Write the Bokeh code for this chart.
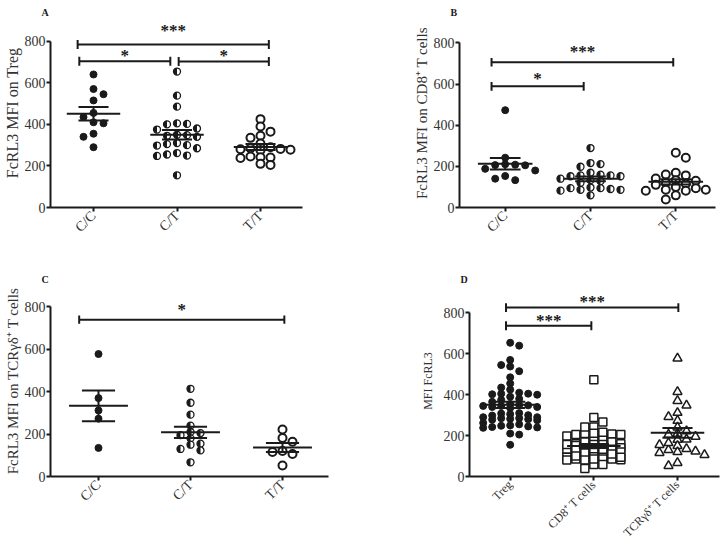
import math
import numpy as np
from bokeh.plotting import figure
from bokeh.layouts import column, row
from bokeh.models import Range1d, FixedTicker, ColumnDataSource, Title
from bokeh.core.properties import value
from bokeh.embed import file_html
from bokeh.resources import INLINE

# ---------------- data ----------------
genotypes = ["C/C", "C/T", "T/T"]
cell_types = ["Treg", "CD8\u207a T cells", "TCR\u03b3\u03b4\u207a T cells"]
y_ticks = [0, 200, 400, 600, 800]

treg_cc = [640, 570, 545, 515, 455, 435, 410, 405, 355, 340, 290]
treg_ct = [654, 538, 485, 405, 402, 400, 380, 375, 350, 348, 345, 340, 310, 305,
           300, 298, 285, 262, 255, 250, 248, 155]
treg_tt = [425, 390, 365, 345, 335, 308, 290, 285, 282, 280, 278, 275, 245, 242,
           240, 238, 210, 205]

cd8_cc = [473, 242, 210, 208, 206, 205, 188, 180, 153, 140, 133]
cd8_ct = [289, 216, 211, 198, 169, 160, 156, 156, 152, 152, 140, 133, 128, 120,
          97, 94, 94, 90, 86, 86, 82, 59]
cd8_tt = [266, 242, 169, 160, 156, 141, 133, 130, 120, 115, 110, 100, 94, 86,
          86, 81, 81, 59, 39]

gd_cc = [578, 370, 312, 273, 135]
gd_ct = [414, 348, 292, 240, 210, 205, 195, 180, 155, 150, 130, 123, 67]
gd_tt = [222, 182, 164, 120, 116, 106, 52]

treg_all = treg_cc + treg_ct + treg_tt
cd8_all = cd8_cc + cd8_ct + cd8_tt
gd_all = gd_cc + gd_ct + gd_tt

sig_labels_A = ["***", "*", "*"]
sig_labels_B = ["***", "*"]
sig_labels_C = ["*"]
sig_labels_D = ["***", "***"]

# ---------------- layout (page pixel geometry) ----------------
INK = "#1a1a1a"
SERIF = "Liberation Serif"

SPEC = {
    "A": dict(fig=(0, 0, 362, 255), frame_x=(50, 302), top=18, y0=207, y800=40.7, cats=(93, 260),
              bars=[(-0.19, 2.10, 784, 852), (-0.17, 0.92, 704, 729), (1.02, 2.10, 702, 729)],
              ylabel="FcRL3 MFI on Treg", ylabel_size="16px", tick_size="14px", lab_standoff=1),
    "B": dict(fig=(362, 0, 360, 255), frame_x=(459, 715), top=14, y0=210, y800=39.3,
              cats=(504.7, 675.3),
              bars=[(-0.16, 1.97, 706, 758), (-0.16, 0.92, 589, 626)],
              ylabel="FcRL3 MFI on CD8\u207a T cells", ylabel_size="15px", tick_size="14px",
              lab_standoff=1),
    "C": dict(fig=(0, 255, 362, 298), frame_x=(50, 328), top=14, y0=476, y800=292.3, cats=(98, 282),
              bars=[(-0.21, 2.02, 740, 789)],
              ylabel="FcRL3 MFI on TCR\u03b3\u03b4\u207a T cells", ylabel_size="15px",
              tick_size="14px", lab_standoff=1),
    "D": dict(fig=(362, 255, 360, 298), frame_x=(469, 719), top=30, y0=478, y800=312.7,
              cats=(509.7, 677),
              bars=[(-0.05, 2.01, 826, 854), (-0.05, 0.97, 737, 762)],
              ylabel="MFI FcRL3", ylabel_size="12px", tick_size="12px", lab_standoff=6),
}


def swarm(vals, ppx, ppy, step, dmin, kmax):
    v = np.asarray(vals, float)
    order = np.argsort(-v, kind="stable")
    placed = []
    offs = np.zeros(len(v))
    flip = 1
    for i in order:
        y = v[i] * ppy
        cands = [0]
        for k in range(1, kmax + 1):
            cands += [flip * k, -flip * k]
        best, best_d = None, -1.0
        for c in cands:
            x = c * step
            d = min([math.hypot(x - px, y - py) for px, py in placed] or [1e9])
            if d >= dmin:
                best = x
                break
            if d > best_d + 0.5:
                best, best_d = x, d
        if best != 0:
            flip = -flip
        placed.append((best, y))
        offs[i] = best / ppx
    return offs


def make_panel(key, groups, markers, xlabels, sig_labels, step=10, dmin=6.5, kmax=3):
    s = SPEC[key]
    fx, fy, w, h = s["fig"]
    fl, fr = s["frame_x"]
    left = int(round(fl - fx))
    right = int(round(fx + w - fr))
    bottom = int(round(fy + h - s["y0"]))
    top = s["top"]
    frame_l = fx + left
    frame_r = fx + w - right
    frame_b = fy + h - bottom
    frame_h = h - top - bottom
    c0, c2 = s["cats"]
    ppx = (c2 - c0) / 2.0
    ppy = (frame_b - s["y800"]) / 800.0
    p = figure(width=w, height=h, output_backend="svg", toolbar_location=None, title=None,
               x_range=Range1d(-(c0 - frame_l) / ppx, 2 + (frame_r - c2) / ppx),
               y_range=Range1d(0, frame_h / ppy),
               min_border_left=left, min_border_right=right,
               min_border_top=top, min_border_bottom=bottom)
    p.outline_line_color = None
    p.grid.visible = False
    p.background_fill_color = "white"
    p.border_fill_color = "white"

    p.add_layout(Title(text=key, align="left", offset=-9, standoff=1, text_font=SERIF,
                       text_font_size="10px", text_font_style="bold", text_color=INK), "above")

    for ax in (p.xaxis, p.yaxis):
        ax.axis_line_color = INK
        ax.axis_line_width = 2
        ax.major_tick_line_color = INK
        ax.major_tick_line_width = 2
        ax.major_tick_out = 4
        ax.major_tick_in = 0
        ax.minor_tick_line_color = None
        ax.major_label_text_font = SERIF
        ax.major_label_text_color = "#333333"
        ax.major_label_standoff = 2
    p.yaxis.major_label_text_font_size = "14px"
    p.xaxis.major_label_text_font_size = s["tick_size"]
    p.yaxis.major_label_standoff = 1
    p.yaxis.ticker = FixedTicker(ticks=y_ticks)
    p.yaxis.bounds = (0, 800)
    p.yaxis.axis_label = s["ylabel"]
    p.yaxis.axis_label_text_font = SERIF
    p.yaxis.axis_label_text_font_size = s["ylabel_size"]
    p.yaxis.axis_label_text_font_style = "normal"
    p.yaxis.axis_label_text_color = "#333333"
    p.yaxis.axis_label_standoff = s["lab_standoff"]
    p.xaxis.ticker = FixedTicker(ticks=[0, 1, 2])
    p.xaxis.major_label_orientation = math.pi / 4
    p.xaxis.major_label_overrides = {i: t for i, t in enumerate(xlabels)}

    # points
    for gi, (vals, mk) in enumerate(zip(groups, markers)):
        offs = swarm(vals, ppx, ppy, step, dmin, kmax)
        xs = gi + offs
        src = ColumnDataSource(dict(x=xs, y=vals))
        if mk == "filled":
            p.scatter("x", "y", source=src, marker="circle", size=7, fill_color=INK, line_color=INK)
        elif mk == "half":
            p.scatter("x", "y", source=src, marker="circle", size=7, fill_color="white",
                      line_color=INK, line_width=1.3)
            p.wedge("x", "y", source=src, radius=3.5, radius_units="screen",
                    start_angle=math.pi / 2, end_angle=3 * math.pi / 2,
                    fill_color=INK, line_color=None)
        elif mk == "open":
            p.scatter("x", "y", source=src, marker="circle", size=8, fill_color="white",
                      line_color=INK, line_width=2)
        elif mk == "square":
            p.scatter("x", "y", source=src, marker="square", size=8, fill_color="white",
                      line_color=INK, line_width=1.5)
        elif mk == "triangle":
            p.scatter("x", "y", source=src, marker="triangle", size=9, fill_color="white",
                      line_color=INK, line_width=1.5)

    # mean +/- SEM
    for gi, vals in enumerate(groups):
        v = np.asarray(vals, float)
        m = v.mean()
        se = v.std(ddof=1) / math.sqrt(len(v))
        p.segment(x0=[gi - 0.32, gi - 0.18, gi - 0.18, gi], y0=[m, m + se, m - se, m - se],
                  x1=[gi + 0.32, gi + 0.18, gi + 0.18, gi], y1=[m, m + se, m - se, m + se],
                  line_color=INK, line_width=2)

    # significance bars
    cap = 4.5 / ppy
    for (xl, xr, yb, yt), lab in zip(s["bars"], sig_labels):
        p.segment(x0=[xl, xl, xr], y0=[yb, yb - cap, yb - cap],
                  x1=[xr, xl, xr], y1=[yb, yb + cap, yb + cap],
                  line_color=INK, line_width=2)
        p.text(x=[(xl + xr) / 2], y=[yt], text=[lab], text_font=value(SERIF),
               text_font_size="17px", text_font_style="bold", text_color=INK,
               text_align="center", text_baseline="middle")
    return p


pA = make_panel("A", [treg_cc, treg_ct, treg_tt], ["filled", "half", "open"],
                genotypes, sig_labels_A)
pB = make_panel("B", [cd8_cc, cd8_ct, cd8_tt], ["filled", "half", "open"],
                genotypes, sig_labels_B)
pC = make_panel("C", [gd_cc, gd_ct, gd_tt], ["filled", "half", "open"],
                genotypes, sig_labels_C)
pD = make_panel("D", [treg_all, cd8_all, gd_all], ["filled", "square", "triangle"],
                cell_types, sig_labels_D, step=9, dmin=6, kmax=3)

layout = column(row(pA, pB), row(pC, pD))
open("out.html", "w").write(file_html(layout, INLINE))
